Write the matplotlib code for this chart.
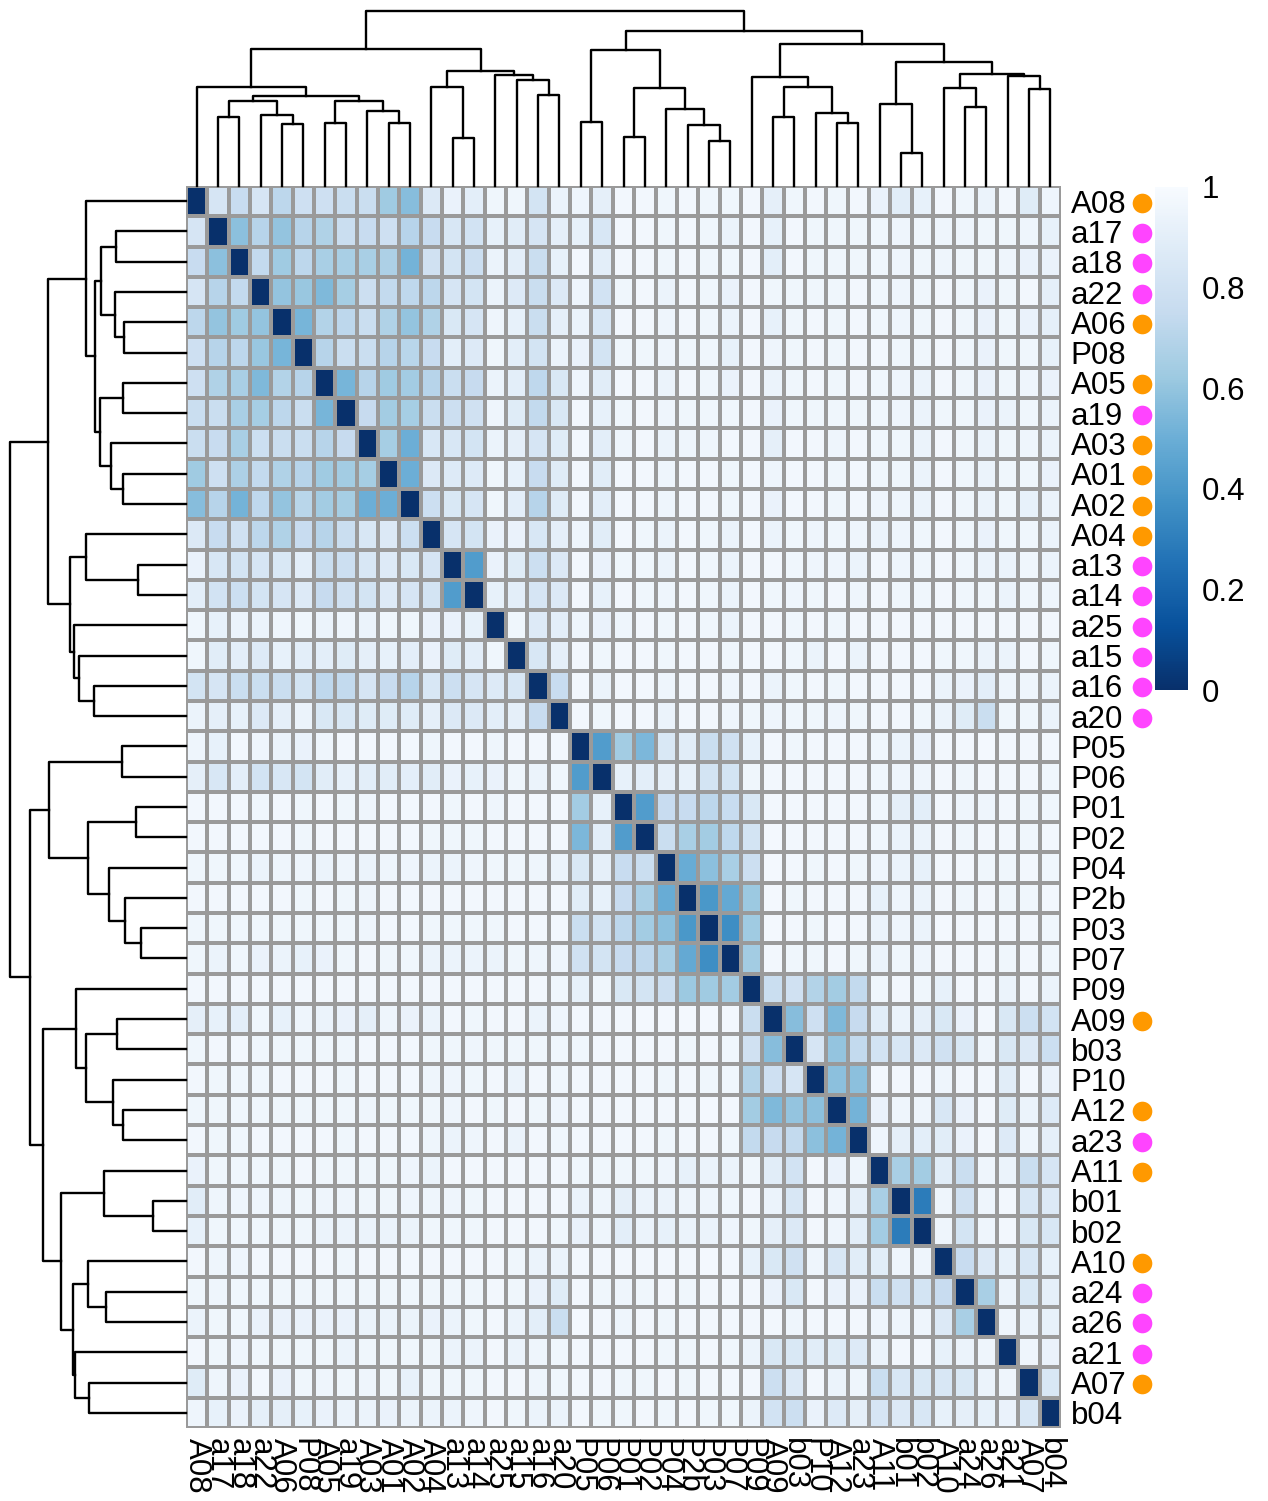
import numpy as np
import matplotlib.pyplot as plt

plt.rcParams['font.family'] = ['Liberation Sans', 'DejaVu Sans']

labels = ["A08", "a17", "a18", "a22", "A06", "P08", "A05", "a19", "A03", "A01",
          "A02", "A04", "a13", "a14", "a25", "a15", "a16", "a20", "P05", "P06",
          "P01", "P02", "P04", "P2b", "P03", "P07", "P09", "A09", "b03", "P10",
          "A12", "a23", "A11", "b01", "b02", "A10", "a24", "a26", "a21", "A07",
          "b04"]

# upper triangle of the distance matrix (x100), row i holds columns i+1..n-1
dist_upper = [
    "83 76 83 72 79 79 77 77 63 57 86 93 90 96 96 82 94 95 91 97 97 96 97 96 96 97 91 96 97 96 97 93 89 92 97 96 94 97 88 95",
    "58 70 60 70 68 77 76 79 70 76 84 81 92 89 83 91 92 84 97 97 96 97 96 94 97 92 97 96 96 96 96 95 96 95 95 96 96 95 92",
    "74 63 72 66 66 66 67 52 80 82 78 94 90 77 92 97 90 97 97 96 97 96 96 97 90 97 96 96 96 96 95 96 95 96 96 95 93 93",
    "60 61 55 65 78 74 73 72 83 82 94 87 77 86 95 81 96 97 94 97 96 93 97 96 96 96 96 97 96 95 96 97 96 93 96 97 91",
    "53 69 72 77 68 60 68 85 83 95 92 77 91 94 84 97 97 95 97 96 94 97 92 96 97 96 97 96 95 96 97 96 93 96 93 91",
    "70 77 77 70 71 76 90 87 96 90 82 94 93 82 96 96 95 96 96 92 97 95 96 97 96 97 97 96 96 97 96 93 96 96 92",
    "53 70 63 64 70 77 75 94 90 73 85 95 89 97 97 94 97 96 93 97 94 96 97 96 97 96 95 94 97 96 93 96 95 93",
    "75 64 65 77 78 80 95 88 74 85 97 92 96 97 95 96 96 96 97 93 96 96 96 96 96 95 94 96 96 93 94 96 94",
    "65 50 84 84 82 94 91 83 88 97 90 95 97 94 95 95 97 97 91 97 97 95 97 96 96 94 97 96 94 96 95 94",
    "50 86 87 87 96 92 76 88 97 89 97 97 95 97 97 96 97 95 97 97 96 97 96 96 94 97 96 94 96 96 93",
    "78 85 83 96 90 70 88 97 90 97 97 95 97 97 96 97 93 97 97 96 97 95 95 94 97 96 94 96 92 94",
    "83 82 93 93 84 91 95 89 97 96 94 97 96 94 97 94 96 95 96 95 94 95 96 97 96 93 96 96 94",
    "42 93 88 78 86 97 93 96 96 94 97 96 94 97 97 96 95 95 94 97 95 96 97 96 94 94 96 94",
    "92 90 83 86 97 92 97 96 95 97 96 94 97 96 95 96 97 95 97 96 96 97 96 96 94 96 95",
    "96 87 90 95 93 95 97 96 97 96 94 97 97 96 97 96 97 97 97 97 97 97 97 97 97 97",
    "84 91 97 96 97 97 96 97 97 96 97 97 96 94 97 94 97 97 97 96 96 94 94 97 96",
    "76 97 94 97 97 95 97 97 95 97 94 96 97 96 97 97 97 97 94 93 90 95 95 94",
    "97 96 97 97 94 97 97 95 96 95 96 96 95 96 97 97 96 94 88 77 96 96 94",
    "42 64 54 85 89 77 80 92 97 96 97 97 97 96 94 93 97 97 98 97 97 97",
    "92 90 91 92 82 82 96 97 97 97 97 97 96 95 95 97 96 97 97 97 96",
    "42 76 76 72 76 85 97 97 97 97 97 96 91 90 97 95 95 97 96 96",
    "77 66 64 73 82 98 97 97 97 97 96 94 94 97 96 97 97 96 97",
    "49 58 66 78 98 97 96 97 96 95 94 92 97 97 96 96 97 96",
    "40 48 62 98 96 97 97 97 92 95 94 97 96 97 96 96 97",
    "36 63 98 97 96 98 97 94 95 94 98 97 97 97 97 96",
    "64 97 96 96 97 96 94 96 95 97 97 97 96 97 96",
    "77 80 69 64 74 96 97 96 92 97 97 94 97 94",
    "57 79 55 75 89 94 91 85 93 97 85 78 81",
    "83 60 74 81 84 86 80 85 95 85 86 78",
    "58 58 97 97 97 95 97 97 89 97 93",
    "52 93 95 95 84 93 97 88 94 87",
    "95 91 90 89 93 97 87 95 91",
    "66 64 89 77 95 94 77 83",
    "29 95 80 95 97 84 86",
    "95 82 95 97 85 84",
    "76 86 92 84 92",
    "66 94 85 91",
    "95 94 92",
    "95 93",
    "84",
]

# hierarchical merges: (left, right, height); ints point to earlier merges
merges = [
    ("a17", "a18", 0.693), ("A06", "P08", 0.62), ("a22", 1, 0.71),
    (0, 2, 0.85), ("A05", "a19", 0.627), ("A01", "A02", 0.627),
    ("A03", 5, 0.75), (4, 6, 0.853), (3, 7, 0.903), ("A08", 8, 0.993),
    ("a13", "a14", 0.477), ("A04", 10, 0.993), ("a16", "a20", 0.91),
    ("a15", 12, 1.06), ("a25", 13, 1.11), (11, 14, 1.153), (9, 15, 1.37),
    ("P05", "P06", 0.637), ("P01", "P02", 0.493), ("P03", "P07", 0.45),
    ("P2b", 19, 0.61), ("P04", 20, 0.77), (18, 21, 0.977), (17, 22, 1.36),
    ("A09", "b03", 0.687), ("A12", "a23", 0.627), ("P10", 25, 0.727),
    (24, 26, 0.993), ("P09", 27, 1.093), ("b01", "b02", 0.327),
    ("A11", 29, 0.82), ("a24", "a26", 0.793), ("A10", 31, 0.977),
    ("A07", "b04", 0.967), ("a21", 33, 1.10), (32, 34, 1.12),
    (30, 35, 1.24), (28, 36, 1.42), (23, 37, 1.55), (16, 38, 1.75),
]

group_colors = {"A": "#FF9900", "a": "#FF44FF"}

n = len(labels)
dist = np.zeros((n, n))
for i, row in enumerate(dist_upper):
    vals = [int(v) / 100 for v in row.split()]
    dist[i, i + 1:] = vals
    dist[i + 1:, i] = vals

# dendrogram segments, leaves at cell centres
pos = {name: i + 0.5 for i, name in enumerate(labels)}
node_x, node_h, segs = [], [], []


def locate(ref):
    if isinstance(ref, str):
        return pos[ref], 0.0
    return node_x[ref], node_h[ref]


for left, right, h in merges:
    x1, h1 = locate(left)
    x2, h2 = locate(right)
    segs.append(([x1, x1, x2, x2], [h1, h, h, h2]))
    node_x.append((x1 + x2) / 2)
    node_h.append(h)

W, H = 1268, 1501
fig = plt.figure(figsize=(W / 100, H / 100), dpi=100)

hx0, hx1, hy0, hy1 = 186, 1061, 186, 1428
ax = fig.add_axes([hx0 / W, 1 - hy1 / H, (hx1 - hx0) / W, (hy1 - hy0) / H])
mesh = ax.pcolormesh(dist, cmap="Blues_r", vmin=0, vmax=1,
                     edgecolors="#9A9A9A", linewidth=1.45)
ax.set_xlim(0, n)
ax.set_ylim(n, 0)
for s in ax.spines.values():
    s.set_visible(False)
ax.yaxis.tick_right()
ax.set_yticks(np.arange(n) + 0.5)
ax.set_yticklabels(labels, fontsize=22.5)
ax.set_xticks(np.arange(n) + 0.5)
ax.set_xticklabels(labels, fontsize=22.5, rotation=270)
ax.tick_params(length=0, pad=7)

for i, name in enumerate(labels):
    c = group_colors.get(name[0])
    if c:
        ax.scatter([44.8], [i + 0.55], s=200, color=c, clip_on=False,
                   linewidths=0, zorder=5)

hmax = 1.75
ax_top = fig.add_axes([hx0 / W, 1 - hy0 / H, (hx1 - hx0) / W, 175 / H])
ax_left = fig.add_axes([10 / W, 1 - hy1 / H, 176 / W, (hy1 - hy0) / H])
for xs, hs in segs:
    ax_top.plot(xs, hs, color="black", lw=1.7, clip_on=False,
                solid_capstyle="projecting")
    ax_left.plot(hs, xs, color="black", lw=1.7, clip_on=False,
                 solid_capstyle="projecting")
ax_top.set_xlim(0, n)
ax_top.set_ylim(0, hmax)
ax_left.set_ylim(n, 0)
ax_left.set_xlim(hmax, 0)
ax_top.axis("off")
ax_left.axis("off")

cax = fig.add_axes([1155 / W, 1 - 690 / H, 33 / W, 503 / H])
cb = fig.colorbar(mesh, cax=cax)
cb.outline.set_visible(False)
cb.set_ticks([0, 0.2, 0.4, 0.6, 0.8, 1])
cb.set_ticklabels(["0", "0.2", "0.4", "0.6", "0.8", "1"])
cax.tick_params(length=0, pad=10, labelsize=22.5)

fig.savefig("out.png", dpi=100)
